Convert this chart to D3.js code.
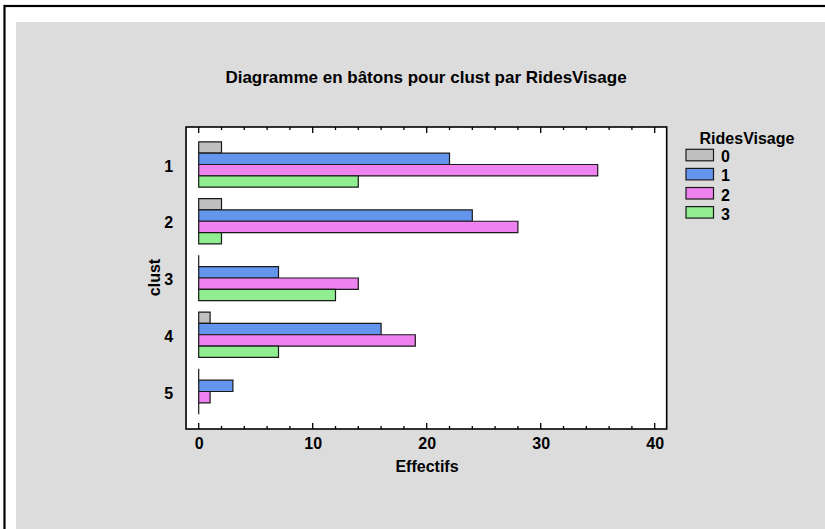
<!DOCTYPE html>
<html><head><meta charset="utf-8">
<script src="https://cdn.jsdelivr.net/npm/d3@7"></script>
<style>
html,body{margin:0;padding:0;background:#fff;}
text{font-family:"Liberation Sans",Arial,sans-serif;font-weight:bold;fill:#000;}
</style></head>
<body>
<svg id="chart" width="825" height="529"></svg>
<script>
const categories = ["1","2","3","4","5"];
const seriesNames = ["0","1","2","3"];
const s0 = [2, 2, 0, 1, 0];
const s1 = [22, 24, 7, 16, 3];
const s2 = [35, 28, 14, 19, 1];
const s3 = [14, 2, 12, 7, 0];
const seriesValues = [s0, s1, s2, s3];
const seriesColors = ["#c0c0c0", "#6495ed", "#ee82ee", "#90ee90"];
const xTicks = [0, 10, 20, 30, 40];
const title = "Diagramme en bâtons pour clust par RidesVisage";
const xTitle = "Effectifs";
const yTitle = "clust";
const legendTitle = "RidesVisage";

const FS = 16;
const svg = d3.select("#chart");
// background
svg.append("rect").attr("x",0).attr("y",0).attr("width",825).attr("height",529).attr("fill","#fff");
svg.append("rect").attr("x",4.5).attr("y",6).attr("width",840).attr("height",540)
  .attr("fill","none").attr("stroke","#000").attr("stroke-width",2.2);
svg.append("rect").attr("x",16).attr("y",22).attr("width",820).attr("height",520).attr("fill","#dcdcdc");

const x = d3.scaleLinear().domain([0,40]).range([198.7,654.7]);
const frameL = x(-1.11), frameR = x(41.05), frameT = 127, frameB = 429;

const y = d3.scaleBand().domain(categories).range([frameT, frameB]).paddingInner(0.2).paddingOuter(0.261);
const ySub = d3.scaleBand().domain(seriesNames).range([0, y.bandwidth()]);

svg.append("rect").attr("x",frameL).attr("y",frameT).attr("width",frameR-frameL).attr("height",frameB-frameT)
  .attr("fill","#fff");

// bars
const data = [];
categories.forEach((c,i)=>seriesNames.forEach((s,j)=>data.push({c, s, v: seriesValues[j][i], color: seriesColors[j]})));
svg.append("g").selectAll("path").data(data).join("path")
  .attr("d", d => {
    const x0 = x(0), w = x(d.v) - x(0), y0 = y(d.c) + ySub(d.s), h = ySub.bandwidth();
    return `M${x0},${y0}h${w}v${h}h${-w}Z`;
  })
  .attr("fill", d=>d.color).attr("stroke","#1a1a1a").attr("stroke-width",1.2);

// axis ticks
const minor = d3.range(0, 41, 2);
const tg = svg.append("g").attr("stroke","#000").attr("stroke-width",1.3);
minor.forEach(t=>{
  const len = (t % 10 === 0) ? 6 : 3;
  tg.append("line").attr("x1",x(t)).attr("x2",x(t)).attr("y1",frameT).attr("y2",frameT+len);
  tg.append("line").attr("x1",x(t)).attr("x2",x(t)).attr("y1",frameB).attr("y2",frameB-len);
});

// frame
svg.append("rect").attr("x",frameL).attr("y",frameT).attr("width",frameR-frameL).attr("height",frameB-frameT)
  .attr("fill","none").attr("stroke","#000").attr("stroke-width",1.6);

// x tick labels via axis
const xAxis = d3.axisBottom(x).tickValues(xTicks).tickSize(0).tickPadding(0);
const xg = svg.append("g").attr("transform",`translate(0,${frameB+9})`).call(xAxis);
xg.select(".domain").remove();
xg.selectAll("text").attr("font-size",FS).attr("font-family","Liberation Sans, Arial, sans-serif").attr("font-weight","bold").attr("fill","#000");

// y tick labels
const yAxis = d3.axisLeft(y).tickSize(0).tickPadding(0);
const yg = svg.append("g").attr("transform",`translate(${frameL-13},2)`).call(yAxis);
yg.select(".domain").remove();
yg.selectAll("text").attr("font-size",FS).attr("font-family","Liberation Sans, Arial, sans-serif").attr("font-weight","bold").attr("fill","#000");

// titles
svg.append("text").attr("x",426).attr("y",82.5).attr("text-anchor","middle").attr("font-size",17).text(title);
svg.append("text").attr("x",427).attr("y",471.5).attr("text-anchor","middle").attr("font-size",FS).text(xTitle);
svg.append("text").attr("transform","translate(159.5,277.5) rotate(-90)").attr("text-anchor","middle").attr("font-size",FS).text(yTitle);

// legend
const lg = svg.append("g");
lg.append("text").attr("x",747).attr("y",144).attr("text-anchor","middle").attr("font-size",FS).text(legendTitle);
seriesNames.forEach((s,j)=>{
  const yy = 149.3 + j*19.1;
  lg.append("rect").attr("x",686).attr("y",yy).attr("width",27.5).attr("height",11.5)
    .attr("fill",seriesColors[j]).attr("stroke","#1a1a1a").attr("stroke-width",1.2);
  lg.append("text").attr("x",721).attr("y",yy+13).attr("font-size",FS).text(s);
});
</script>
</body></html>
